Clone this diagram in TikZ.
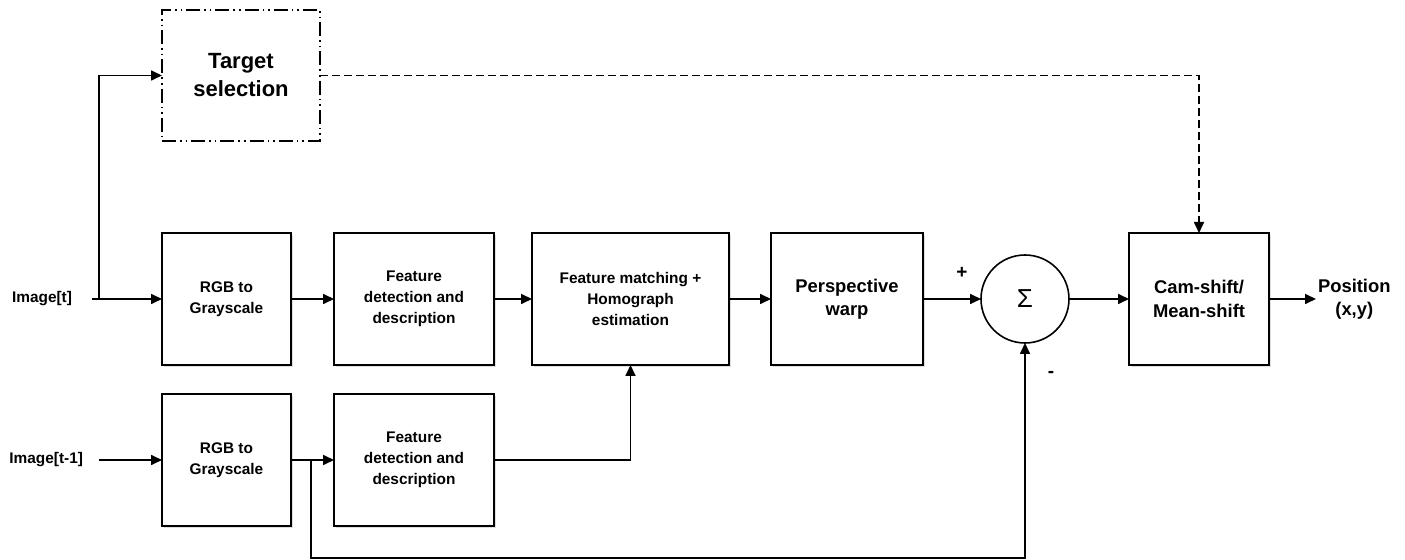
\documentclass[tikz,border=0pt]{standalone}
\usepackage{fontspec}
\setmainfont{Liberation Sans}
\usetikzlibrary{arrows.meta, positioning, calc, shadows}

\begin{document}
\begin{tikzpicture}[x=0.5pt, y=-0.5pt, every node/.style={font=\bfseries},
  blk/.style={draw, line width=1pt, fill=white, minimum height=66pt, inner sep=2pt, outer sep=0pt,
    align=center, font=\bfseries\fontsize{7.7}{10.5}\selectfont,
    drop shadow={shadow xshift=1pt, shadow yshift=-1.2pt, opacity=0.25}},
  bigtext/.style={font=\bfseries\fontsize{9.2}{11.6}\selectfont},
  lbl/.style={align=center, outer sep=0pt, font=\bfseries\fontsize{7.7}{10.5}\selectfont},
  arr/.style={-{Triangle[length=5.5pt, width=5pt]}, line width=0.85pt},
  sign/.style={font=\bfseries\fontsize{9.5}{10}\selectfont, inner sep=0pt}]
  \useasboundingbox (0,0) rectangle (1405,560);

  % upper row
  \node[blk, minimum width=64.5pt] (rgbA) at (226.5,299) {RGB to\\Grayscale};
  \node[blk, minimum width=80pt, right=21.5pt of rgbA] (featA) {Feature\\detection and\\description};
  \node[blk, minimum width=98.5pt, right=19pt of featA] (match) {Feature matching +\\Homograph\\estimation};
  \node[blk, bigtext, minimum width=76pt, right=21pt of match] (warp) {Perspective\\warp};
  \node[draw, circle, line width=0.8pt, minimum size=44pt, inner sep=0pt, outer sep=0pt,
    font=\mdseries\fontsize{13}{14}\selectfont, right=29pt of warp] (sum) {Σ};
  \node[blk, bigtext, minimum width=70pt, right=30pt of sum] (cam) {Cam-shift/\\Mean-shift};
  \node[lbl, bigtext, inner xsep=1pt, right=23.5pt of cam] (pos) {Position\\(x,y)};

  % lower row
  \node[blk, minimum width=64.5pt, below=14.5pt of rgbA] (rgbB) {RGB to\\Grayscale};
  \node[blk, minimum width=80pt, below=14.5pt of featA] (featB) {Feature\\detection and\\description};

  % target box
  \node[draw, line width=0.8pt, dash pattern=on 7pt off 2pt on 0.8pt off 2pt on 0.8pt off 2pt,
    minimum width=79pt, minimum height=65.5pt, outer sep=0pt, align=center,
    font=\bfseries\fontsize{11}{14}\selectfont,
    above=46pt of rgbA.north west, anchor=south west] (tgt) {Target\\selection};

  % inputs
  \node[lbl, inner xsep=10pt, left=35pt of rgbA] (imgA) {Image[t]};
  \node[lbl, inner xsep=8pt, left=31.5pt of rgbB] (imgB) {Image[t-1]};

  \coordinate[right=3.5pt of imgA.east] (splitA);
  \coordinate[right=10pt of rgbB.east] (splitB);
  \coordinate[below=49pt of splitB] (fbk);

  \draw[arr] (imgA) -- (rgbA);
  \draw[arr] (splitA) |- (tgt.west);
  \draw[arr] (rgbA) -- (featA);
  \draw[arr] (featA) -- (match);
  \draw[arr] (match) -- (warp);
  \draw[arr] (warp) -- (sum);
  \draw[arr] (sum) -- (cam);
  \draw[arr] (cam) -- (pos);
  \draw[arr] (imgB) -- (rgbB);
  \draw[arr] (rgbB) -- (featB);
  \draw[arr] (featB.east) -| (match.south);
  \draw[arr] (splitB) -- (fbk) -| (sum.south);
  \draw[arr, dash pattern=on 4pt off 2pt] (tgt.east) -| (cam.north);

  \node[sign] (plus) at ($(sum.west)+(-9.5pt,13pt)$) {+};
  \node[sign] (minus) at ($(sum.south)+(13pt,-15.5pt)$) {-};
\end{tikzpicture}
\end{document}
